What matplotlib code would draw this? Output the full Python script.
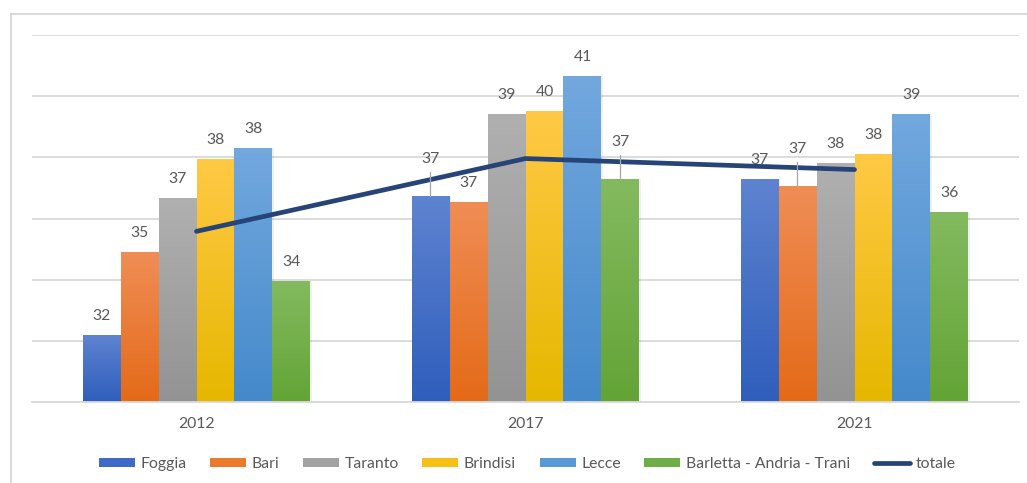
import matplotlib
matplotlib.use("Agg")
import matplotlib.pyplot as plt
import numpy as np
from matplotlib.colors import LinearSegmentedColormap
from matplotlib.patches import Patch
from matplotlib.lines import Line2D

plt.rcParams['font.family'] = ['Lato', 'DejaVu Sans']

years = ["2012", "2017", "2021"]
provinces = ["Foggia", "Bari", "Taranto", "Brindisi", "Lecce", "Barletta - Andria - Trani"]
foggia = [32.19, 36.72, 37.28]
bari = [34.89, 36.55, 37.05]
taranto = [36.66, 39.43, 37.80]
brindisi = [37.96, 39.50, 38.12]
lecce = [38.29, 40.67, 39.43]
bat = [33.95, 37.28, 36.20]
totale = [35.58, 37.96, 37.60]
series = [foggia, bari, taranto, brindisi, lecce, bat]

# style
top_cols = ["#5E83D0", "#F08D55", "#B0B0B0", "#FFC945", "#72A8DE", "#83BA5F"]
bot_cols = ["#2F5EBC", "#E46A18", "#939393", "#E6B700", "#4589CB", "#63A436"]
leg_cols = ["#3E6BC6", "#EC7A2C", "#A2A2A2", "#F7C016", "#5899D6", "#6FAD47"]
line_col = "#264478"
text_col = "#595959"
grid_col = "#D9D9D9"
fs = 11.3
# labels displaced upward (with leader lines): (series index, year index)
displaced = {(0, 1), (5, 1), (1, 2)}

W, H = 1027, 483
fig = plt.figure(figsize=(W / 100, H / 100), dpi=100)
ax = fig.add_axes([32 / W, 81 / H, (1019 - 32) / W, (402 - 35) / H])

ymin, ymax = 30, 42
x = np.arange(len(years))
bw = 0.1155
n = len(series)

for i, vals in enumerate(series):
    pos = x + (i - (n - 1) / 2) * bw
    cmap = LinearSegmentedColormap.from_list(f"g{i}", [bot_cols[i], top_cols[i]])
    heights = [v - ymin for v in vals]
    # soft shadow
    ax.bar(pos + 0.005, heights, bw, bottom=ymin, color="black", alpha=0.06,
           zorder=1.5, linewidth=0)
    bars = ax.bar(pos, heights, bw, bottom=ymin, color=leg_cols[i], zorder=2,
                  linewidth=0)
    for b, v, j in zip(bars, vals, range(len(vals))):
        x0 = b.get_x()
        grad = np.linspace(0, 1, 100).reshape(-1, 1)
        im = ax.imshow(grad, extent=[x0, x0 + bw, ymin, v], origin="lower",
                       aspect="auto", cmap=cmap, zorder=2.1)
        im.set_clip_path(b)
        if (i, j) in displaced:
            ax.annotate(f"{v:.0f}", (x0 + bw / 2, v), xytext=(0, 37),
                        textcoords="offset pixels", ha="center", va="center",
                        fontsize=fs, color=text_col, zorder=5)
            ax.annotate("", (x0 + bw / 2, v), xytext=(0, 24),
                        textcoords="offset pixels",
                        arrowprops=dict(arrowstyle="-", color="#A6A6A6", lw=0.9,
                                        shrinkA=0, shrinkB=0), zorder=4)
        else:
            ax.annotate(f"{v:.0f}", (x0 + bw / 2, v), xytext=(0, 19),
                        textcoords="offset pixels", ha="center", va="center",
                        fontsize=fs, color=text_col, zorder=5)

ax.plot(x, totale, color=line_col, lw=3.4, solid_capstyle="round", zorder=3)

ax.set_xlim(-0.5, len(years) - 0.5)
ax.set_ylim(ymin, ymax)
ax.set_yticks(np.arange(ymin, ymax + 0.1, 2))
ax.set_yticklabels([])
ax.tick_params(axis="y", length=0)
ax.grid(axis="y", color=grid_col, lw=1.3, zorder=0)
ax.set_axisbelow(True)
ax.set_xticks(x)
ax.set_xticklabels(years, fontsize=fs, color=text_col)
ax.tick_params(axis="x", length=0, pad=11)
for s in ["top", "right", "left"]:
    ax.spines[s].set_visible(False)
ax.spines["bottom"].set_color(grid_col)
ax.spines["bottom"].set_linewidth(1.3)

# outer frame (top and left edges)
fig.add_artist(Line2D([11 / W, 11 / W], [0, 1 - 14 / H], transform=fig.transFigure,
                      color=grid_col, lw=1.5))
fig.add_artist(Line2D([11 / W, 1], [1 - 14 / H, 1 - 14 / H], transform=fig.transFigure,
                      color=grid_col, lw=1.5))

handles = [Patch(facecolor=c, edgecolor="none") for c in leg_cols]
handles.append(Line2D([0], [0], color=line_col, lw=3.4, solid_capstyle="round"))
labels = provinces + ["totale"]
leg = fig.legend(handles, labels, loc="center", bbox_to_anchor=(527 / W, 19 / H),
                 ncol=7, frameon=False, fontsize=fs, handlelength=2.3,
                 handleheight=0.55, handletextpad=0.35, columnspacing=1.5)
for t in leg.get_texts():
    t.set_color(text_col)

fig.savefig("out.png", dpi=100)
